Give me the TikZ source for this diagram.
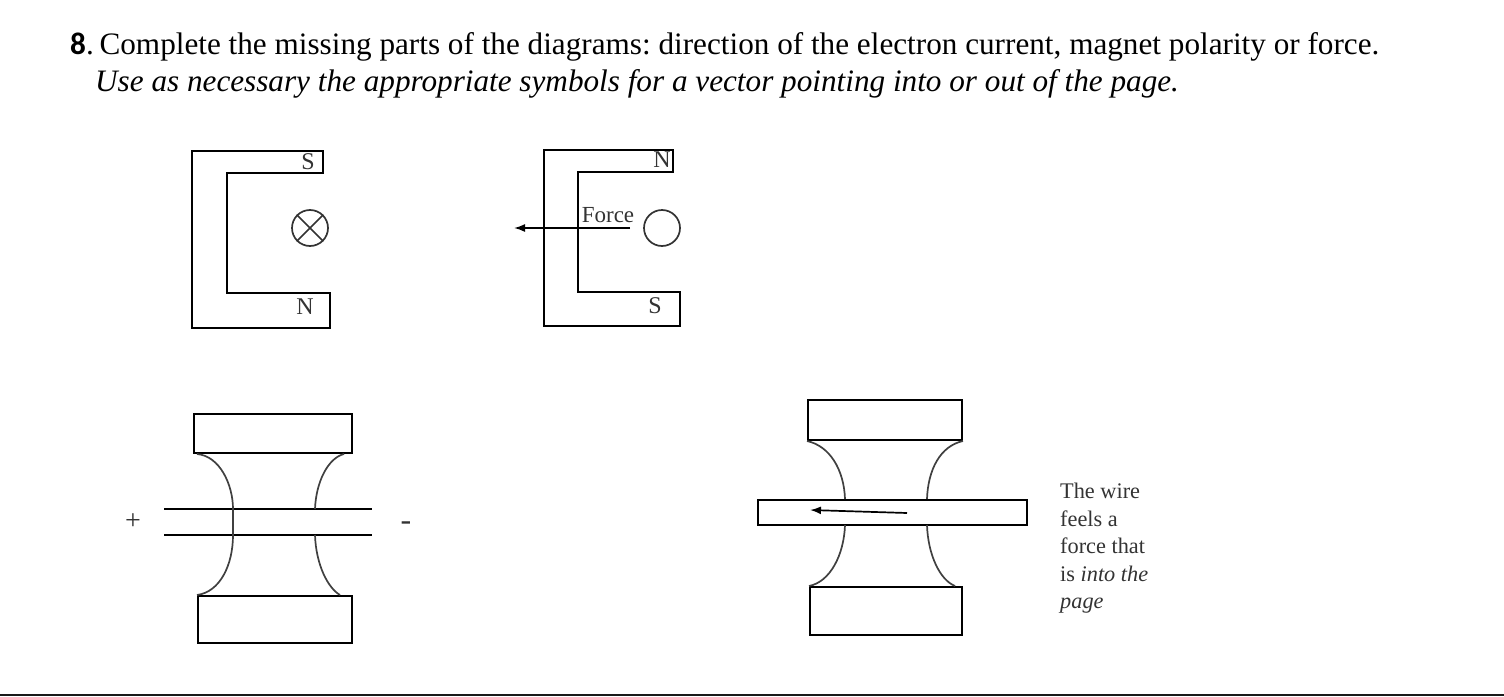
\documentclass[tikz,border=0pt]{standalone}
\usepackage{fontspec}
\setmainfont{Liberation Serif}
\newfontfamily\numfont{Carlito}
\usetikzlibrary{arrows.meta,positioning}
\begin{document}
\frenchspacing
\begin{tikzpicture}[
x=1pt,y=-1pt,
polebox/.style={rectangle, draw, line width=2pt, inner sep=0pt, anchor=north west},
poleline/.style={draw, line width=2.2pt, black},
fieldline/.style={draw, line width=1.7pt, black!75},
headtext/.style={inner sep=0pt, anchor=base west, font=\fontsize{31.2}{37}\selectfont},
smalltext/.style={inner sep=0pt, text=black!80, font=\fontsize{24}{28}\selectfont},
notetext/.style={inner sep=0pt, anchor=base west, text=black!80, font=\fontsize{22.3}{26}\selectfont},
wirecircle/.style={circle, draw, line width=1.7pt, black!80, inner sep=0pt, minimum size=36pt},
forcearrow/.style={line width=1.7pt, -{Latex[length=11pt,width=8pt]}}]
\useasboundingbox (0,0) rectangle (1504,696);
% Heading
\node[headtext] (head1) at (70,54) {{\numfont\bfseries 8}.\kern-2pt\ Complete the missing parts of the diagrams: direction of the electron current, magnet polarity or force.};
\node[headtext] (head2) at (95,91) {\itshape Use as necessary the appropriate symbols for a vector pointing into or out of the page.};
% Magnets
\draw[poleline] (323,151) -- (192,151) -- (192,328) -- (330,328) -- (330,293) -- (227,293) -- (227,173) -- (323,173) -- cycle;
\draw[poleline] (673,150) -- (544,150) -- (544,326) -- (680,326) -- (680,292) -- (578,292) -- (578,172) -- (673,172) -- cycle;
\node[smalltext] (s1) at (308,162) {S};
\node[smalltext] (n1) at (305,307) {N};
\node[smalltext] (n2) at (662,160) {N};
\node[smalltext] (s2) at (655,306) {S};
\node[wirecircle] (cross) at (310,228) {};
\draw[line width=1.7pt, black!80] (cross.north west) -- (cross.south east);
\draw[line width=1.7pt, black!80] (cross.north east) -- (cross.south west);
\node[wirecircle] (dot) at (662,228) {};
\node[smalltext, font=\fontsize{23}{27}\selectfont] (force) at (608,215) {Force};
\coordinate (ftail) at (630,228);
\coordinate (fhead) at (514,228);
\draw[forcearrow] (ftail) -- (fhead);
% Left poles
\node[polebox, minimum width=158pt, minimum height=39pt] (ptop1) at (193,413) {};
\node[polebox, minimum width=154pt, minimum height=47pt] (pbot1) at (197,595) {};
\coordinate (wa) at (164,509);
\coordinate (wb) at (372,509);
\coordinate (wc) at (164,535);
\coordinate (wd) at (372,535);
\draw[poleline] (wa) -- (wb);
\draw[poleline] (wc) -- (wd);
\node[smalltext, font=\fontsize{28}{28}\selectfont] (plus) at (133,522) {+};
\node[smalltext, font=\fontsize{32}{32}\selectfont] (minus) at (406,526) {-};
\draw[fieldline] (ptop1.south west) ++(4,0) .. controls (220,456) and (233,485) .. (233,509) -- (233,535) .. controls (233,565) and (220,592) .. (pbot1.north west);
\draw[fieldline] (ptop1.south east) ++(-9,0) .. controls (328,458) and (316,482) .. (315,509);
\draw[fieldline] (315,535) .. controls (316,565) and (328,588) .. (340,595);
% Right poles
\node[polebox, minimum width=154pt, minimum height=40pt] (ptop2) at (807,399) {};
\node[polebox, minimum width=152pt, minimum height=48pt] (pbot2) at (809,586) {};
\node[polebox, minimum width=269pt, minimum height=25pt] (wire) at (757,499) {};
\draw[fieldline] (ptop2.south west) .. controls (830,446) and (844,470) .. (845,499);
\draw[fieldline] (845,525) .. controls (844,555) and (830,582) .. (pbot2.north west);
\draw[fieldline] (ptop2.south east) .. controls (940,446) and (928,470) .. (927,499);
\draw[fieldline] (927,525) .. controls (928,555) and (940,580) .. (955,586);
\coordinate (ctail) at (907,513);
\coordinate (chead) at (810,510);
\draw[forcearrow] (ctail) -- (chead);
% Note
\node[notetext] (note1) at (1060,498) {The wire};
\node[notetext] (note2) at (1060,526) {feels a};
\node[notetext] (note3) at (1060,553) {force that};
\node[notetext] (note4) at (1060,581) {is \itshape into the};
\node[notetext] (note5) at (1060,608) {\itshape page};
% Rule
\coordinate (rulea) at (0,695);
\coordinate (ruleb) at (1504,695);
\draw[line width=2pt, black!90] (rulea) -- (ruleb);
\end{tikzpicture}
\end{document}
